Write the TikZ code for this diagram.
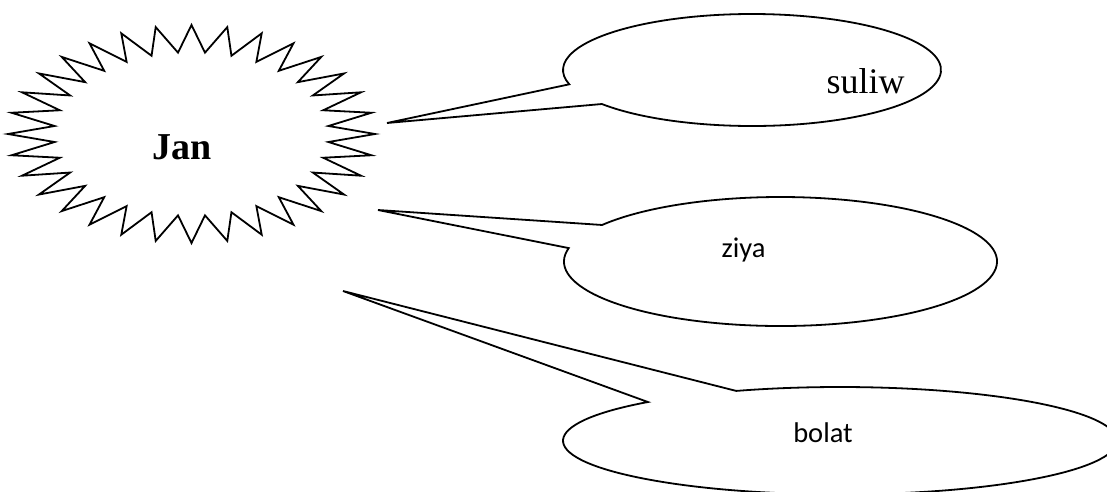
\documentclass[tikz,border=0pt]{standalone}
\usepackage{fontspec}
\setmainfont{Liberation Serif}
\newfontfamily\calib{Carlito}
\usetikzlibrary{calc}
\begin{document}
\begin{tikzpicture}[x=1pt,y=1pt]
\tikzset{
  outline/.style={draw=black, line width=1.8pt, fill=white, line join=miter},
  lbl/.style={inner sep=0pt, anchor=base}
}
\useasboundingbox (0,0) rectangle (1107,-491);
\clip (0,0) rectangle (1107,-491);

% starburst
\coordinate (sc) at (191.5,-134);
\draw[outline] ($(sc)+(90:183.5pt and 109pt)$)
  \foreach \k in {0,...,30}{
    -- ($(sc)+({95.625+\k*11.25}:137.6pt and 81.75pt)$)
    -- ($(sc)+({101.25+\k*11.25}:183.5pt and 109pt)$)
  }
  -- ($(sc)+({95.625+31*11.25}:137.6pt and 81.75pt)$) -- cycle;
\node[lbl, font=\fontsize{38}{40}\selectfont\bfseries] (jan) at (182,-159) {Jan};

% callout 1
\coordinate (c1) at (752,-70);
\coordinate (t1) at (387,-123);
\draw[outline] (t1) -- ($(c1)+(217.4:189pt and 56pt)$)
  arc[start angle=217.4, end angle=554.8, x radius=189pt, y radius=56pt] -- cycle;
\node[lbl, font=\fontsize{36}{40}\selectfont] (suliw) at (865.5,-93) {suliw};

% callout 2
\coordinate (c2) at (780.5,-261.5);
\coordinate (t2) at (378,-210);
\draw[outline] (t2) -- ($(c2)+(168:216.5pt and 64.5pt)$)
  arc[start angle=168, end angle=505.5, x radius=216.5pt, y radius=64.5pt] -- cycle;
\node[lbl, font=\calib\fontsize{28.5}{32}\selectfont] (ziya) at (743.5,-257) {ziya};

% callout 3
\coordinate (c3) at (840,-440.7);
\coordinate (t3) at (343,-291);
\draw[outline] (t3) -- ($(c3)+(133.9:277pt and 53.7pt)$)
  arc[start angle=133.9, end angle=472, x radius=277pt, y radius=53.7pt] -- cycle;
\node[lbl, font=\calib\fontsize{28.5}{32}\selectfont] (bolat) at (823,-442) {bolat};
\end{tikzpicture}
\end{document}
